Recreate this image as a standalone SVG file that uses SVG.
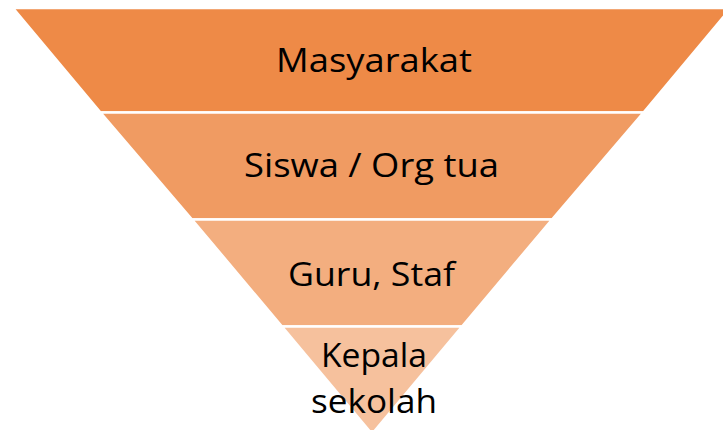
<svg xmlns="http://www.w3.org/2000/svg" width="723" height="430" viewBox="0 0 723 430">
<style>
.band{stroke:#ffffff;stroke-width:2.5}
.lbl{font-family:"Open Sans","Liberation Sans",sans-serif;font-size:33px;fill:#000000;text-anchor:middle}
</style>
<rect width="723" height="430" fill="#ffffff"/>
<g id="band-masyarakat">
<polygon class="band" fill="#EE8A47" points="13,8 731,8 643.5,112.5 100.5,112.5"/>
<text class="lbl" x="374" y="72" textLength="196" lengthAdjust="spacingAndGlyphs">Masyarakat</text>
</g>
<g id="band-siswa">
<polygon class="band" fill="#F09B62" points="100.5,112.5 643.5,112.5 552,219.5 192,219.5"/>
<text class="lbl" x="371.5" y="177" textLength="255" lengthAdjust="spacingAndGlyphs">Siswa / Org tua</text>
</g>
<g id="band-guru">
<polygon class="band" fill="#F3AE7F" points="192,219.5 552,219.5 462,326.5 282,326.5"/>
<text class="lbl" x="371.5" y="286" textLength="167" lengthAdjust="spacingAndGlyphs">Guru, Staf</text>
</g>
<g id="band-kepala">
<polygon class="band" fill="#F6C19D" points="282,326.5 462,326.5 372,434"/>
<text class="lbl" x="374" y="367" textLength="106" lengthAdjust="spacingAndGlyphs">Kepala</text>
<text class="lbl" x="374" y="413" textLength="126" lengthAdjust="spacingAndGlyphs">sekolah</text>
</g>
<g id="connectors"></g>
</svg>
